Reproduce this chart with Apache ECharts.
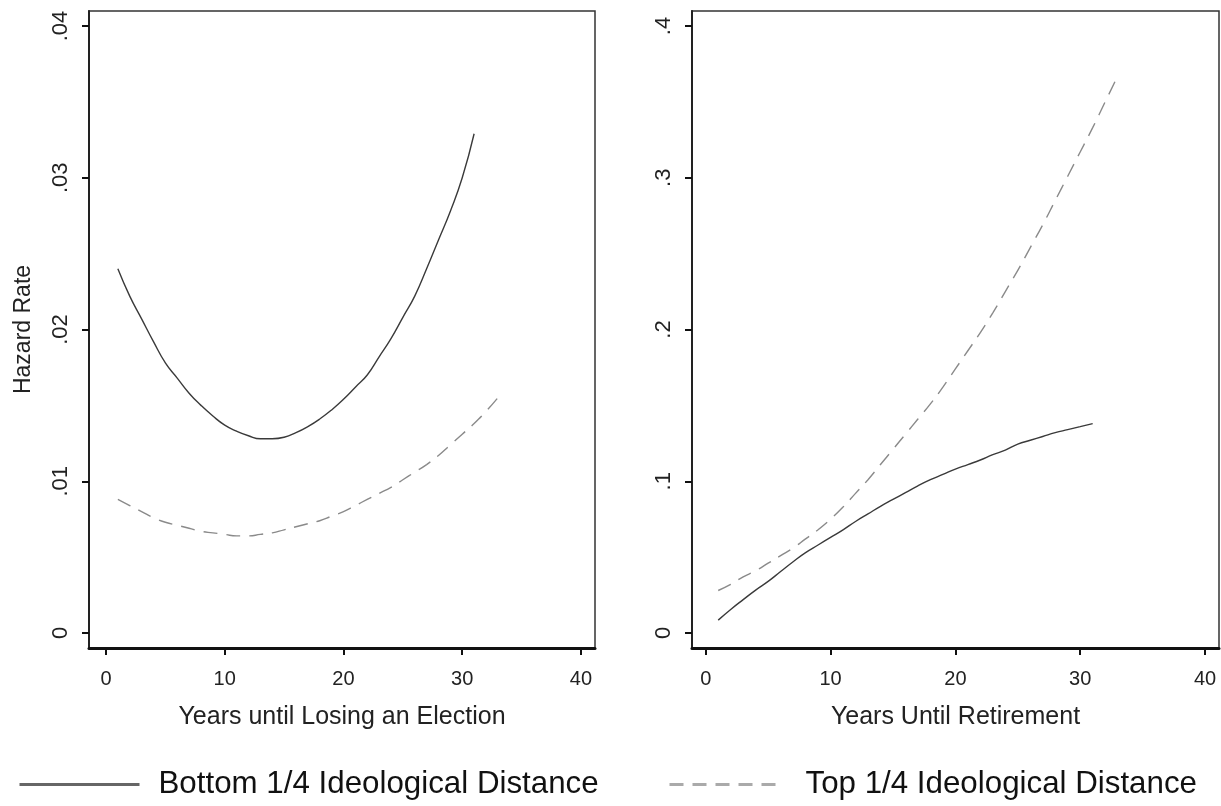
<!DOCTYPE html>
<html><head><meta charset="utf-8">
<script src="https://cdn.jsdelivr.net/npm/echarts@6/dist/echarts.min.js"></script>
<style>html,body{margin:0;padding:0;background:#fff}#c{width:1221px;height:806px}</style>
</head><body><div id="c"></div>
<script>
// Left panel: Years until Losing an Election
const yearsLeftSolid = [1,2,3,4,5,6,7,8,9,10,11,12,13,14,15,16,17,18,19,20,21,22,23,24,25,26,27,28,29,30,31];
const electionBottom = [.0240,.0222,.0207,.0192,.0178,.0168,.0158,.0150,.0143,.0137,.0133,.0130,.0128,.0128,.0129,.0132,.0136,.0141,.0147,.0154,.0162,.0170,.0182,.0194,.0208,.0222,.0240,.0259,.0278,.0300,.0329];
const yearsLeftDashed = [1,2,3,4,5,6,7,8,9,10,11,12,13,14,15,16,17,18,19,20,21,22,23,24,25,26,27,28,29,30,31,32,33];
const electionTop = [.0088,.0084,.0080,.0076,.0073,.0071,.0069,.0067,.0066,.0065,.0064,.0064,.0065,.0066,.0068,.0070,.0072,.0074,.0077,.0080,.0084,.0088,.0092,.0096,.0101,.0106,.0111,.0117,.0124,.0131,.0138,.0146,.0155];
// Right panel: Years Until Retirement
const yearsRightSolid = [1,2,3,4,5,6,7,8,9,10,11,12,13,14,15,16,17,18,19,20,21,22,23,24,25,26,27,28,29,30,31];
const retireBottom = [.0085,.0155,.0220,.0283,.0340,.0405,.0470,.0530,.0580,.0630,.0680,.0735,.0785,.0835,.0880,.0925,.0970,.1010,.1045,.1080,.1110,.1140,.1175,.1205,.1245,.1270,.1295,.1320,.1340,.1360,.1380];
const yearsRightDashed = [1,2,3,4,5,6,7,8,9,10,11,12,13,14,15,16,17,18,19,20,21,22,23,24,25,26,27,28,29,30,31,32,33];
const retireTop = [.028,.032,.037,.041,.046,.051,.056,.062,.068,.075,.083,.092,.101,.111,.121,.131,.141,.151,.162,.174,.186,.198,.211,.225,.239,.254,.269,.285,.301,.317,.333,.350,.367];

const xTicks = [0,10,20,30,40];
const yTicksLeft = [0,0.01,0.02,0.03,0.04];
const yTicksRight = [0,0.1,0.2,0.3,0.4];
const seriesNames = ['Bottom 1/4 Ideological Distance','Top 1/4 Ideological Distance'];
const xTitles = ['Years until Losing an Election','Years Until Retirement'];
const yTitle = 'Hazard Rate';

const FONT = '"Liberation Sans", Arial, sans-serif';
const pair = (xs, ys) => xs.map((x, i) => [x, ys[i]]);
const yFmt = v => v === 0 ? '0' : String(v).replace(/^0/, '');

function xAxis(gi, min, max, title) {
  return {
    type: 'value', gridIndex: gi, min: min, max: max,
    name: title, nameLocation: 'middle', nameGap: 57,
    nameTextStyle: {fontFamily: FONT, fontSize: 25, color: '#222'},
    axisLine: {show: true, onZero: false, lineStyle: {color: '#111', width: 3}},
    axisTick: {show: true, customValues: xTicks, length: 7, lineStyle: {color: '#111', width: 2}},
    axisLabel: {customValues: xTicks, margin: 21, fontFamily: FONT, fontSize: 20, color: '#222'},
    splitLine: {show: false}
  };
}
function yAxis(gi, min, max, ticks, title) {
  return {
    type: 'value', gridIndex: gi, min: min, max: max,
    name: title, nameLocation: 'middle', nameGap: 54,
    nameTextStyle: {fontFamily: FONT, fontSize: 23, color: '#222'},
    axisLine: {show: true, onZero: false, lineStyle: {color: '#222', width: 2}},
    axisTick: {show: true, customValues: ticks, length: 7, lineStyle: {color: '#111', width: 2}},
    axisLabel: {customValues: ticks, rotate: 90, margin: 17, fontFamily: FONT, fontSize: 22, color: '#222', formatter: yFmt},
    splitLine: {show: false}
  };
}
function line(name, xi, data, dashed) {
  return {
    type: 'line', name: name, xAxisIndex: xi, yAxisIndex: xi, data: data,
    showSymbol: false, symbol: 'none', smooth: true, silent: true,
    lineStyle: dashed ? {color: '#8a8a8a', width: 1.4, type: [14, 9]} : {color: '#3a3a3a', width: 1.4},
    itemStyle: {color: dashed ? '#9a9a9a' : '#555'}
  };
}

const chart = echarts.init(document.getElementById('c'), null, {renderer: 'canvas'});
chart.setOption({
  backgroundColor: '#fff',
  animation: false,
  grid: [
    {left: 89, top: 11, width: 506, height: 637, show: true, borderColor: '#333', borderWidth: 1.5, containLabel: false},
    {left: 692, top: 11, width: 527, height: 637, show: true, borderColor: '#333', borderWidth: 1.5, containLabel: false}
  ],
  xAxis: [
    xAxis(0, -1.43, 41.18, xTitles[0]),
    xAxis(1, -1.1, 41.12, xTitles[1])
  ],
  yAxis: [
    yAxis(0, -0.000988, 0.040988, yTicksLeft, yTitle),
    yAxis(1, -0.00988, 0.40988, yTicksRight, '')
  ],
  legend: [
    {data: [seriesNames[0]], left: 13, top: 764, itemWidth: 120, itemHeight: 20, itemGap: 0,
     textStyle: {fontFamily: FONT, fontSize: 31.3, color: '#111', padding: [0,0,0,14]},
     itemStyle: {opacity: 0}, lineStyle: {width: 3, color: '#666'}, selectedMode: false},
    {data: [seriesNames[1]], left: 663, top: 764, itemWidth: 113, itemHeight: 20, itemGap: 0,
     textStyle: {fontFamily: FONT, fontSize: 31.3, color: '#111', padding: [0,0,0,18]},
     itemStyle: {opacity: 0}, lineStyle: {width: 3, color: '#aaa'}, selectedMode: false}
  ],
  series: [
    line(seriesNames[0], 0, pair(yearsLeftSolid, electionBottom), false),
    line(seriesNames[1], 0, pair(yearsLeftDashed, electionTop), true),
    line(seriesNames[0], 1, pair(yearsRightSolid, retireBottom), false),
    line(seriesNames[1], 1, pair(yearsRightDashed, retireTop), true)
  ]
});
</script></body></html>
